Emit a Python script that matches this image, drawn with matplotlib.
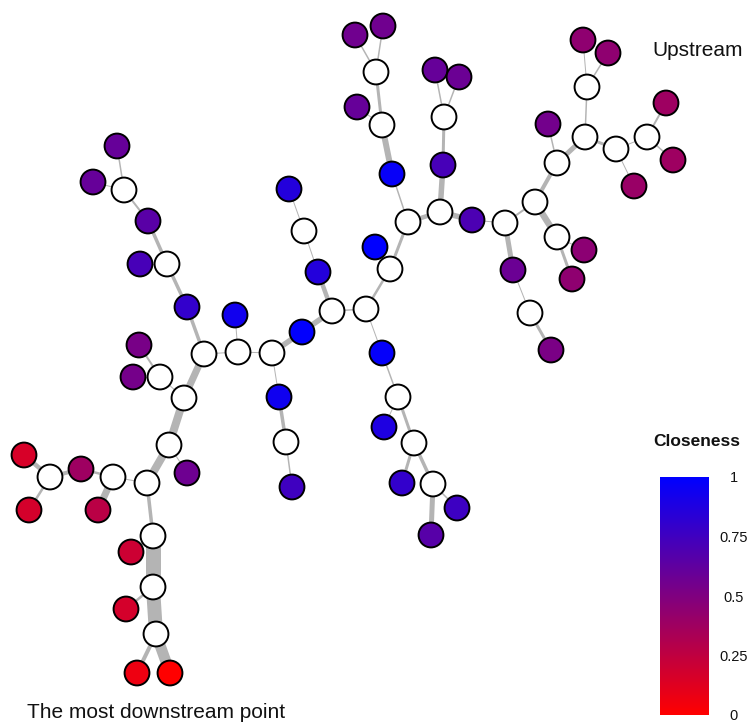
import numpy as np
import matplotlib
matplotlib.use("Agg")
import matplotlib.pyplot as plt
from matplotlib.collections import LineCollection
from matplotlib.colors import LinearSegmentedColormap, Normalize
from matplotlib.cm import ScalarMappable

plt.rcParams['font.family'] = ['Liberation Sans', 'DejaVu Sans']

# Node layout (x to the right, y downward) and closeness; NaN = junction node (white)
node_x = [170, 137, 156, 126, 153, 131, 153, 147, 169, 187,
          113, 81, 98, 50, 24, 29, 184, 160, 139, 133,
          204, 187, 167, 140, 148, 124, 117, 93, 238, 235,
          272, 279, 286, 292, 302, 332, 318, 304, 289, 366,
          382, 398, 384, 414, 402, 433, 457, 431, 390, 375,
          408, 392, 382, 357, 376, 355, 383, 440, 443, 444,
          435, 459, 472, 505, 513, 530, 551, 535, 557, 584,
          572, 557, 548, 585, 587, 583, 608, 616, 647, 666,
          673, 634]
node_y = [673, 673, 634, 609, 587, 552, 536, 483, 445, 473,
          477, 469, 510, 477, 455, 510, 398, 377, 345, 377,
          354, 307, 264, 264, 221, 190, 146, 182, 352, 315,
          353, 397, 442, 487, 332, 311, 272, 231, 189, 309,
          353, 397, 427, 443, 483, 484, 508, 535, 269, 247,
          222, 174, 125, 107, 72, 35, 26, 212, 165, 117,
          70, 77, 220, 223, 270, 313, 350, 202, 237, 250,
          279, 163, 124, 137, 87, 40, 53, 149, 137, 103,
          160, 186]
nan = np.nan
closeness = [0.00, 0.07, nan, 0.17, nan, 0.20, nan, nan, nan, 0.57,
             nan, 0.38, 0.27, nan, 0.16, 0.17, nan, nan, 0.53, 0.54,
             nan, 0.80, nan, 0.72, 0.65, nan, 0.60, 0.60, nan, 0.93,
             nan, 0.94, nan, 0.75, 0.99, nan, 0.86, nan, 0.86, nan,
             0.98, nan, 0.88, nan, 0.80, nan, 0.76, 0.66, nan, 1.00,
             nan, 0.97, nan, 0.60, nan, 0.56, 0.56, nan, 0.72, nan,
             0.60, 0.58, 0.70, nan, 0.58, nan, 0.52, nan, nan, 0.45,
             0.44, nan, 0.55, nan, nan, 0.44, 0.44, nan, nan, 0.38,
             0.38, 0.40]

# River segments: (from, to, flow width)
edges = [(1, 2, 4), (0, 2, 11), (2, 4, 14), (3, 4, 2.5), (4, 6, 15), (5, 6, 2),
         (6, 7, 3.5), (7, 8, 8), (9, 8, 1), (7, 10, 1), (10, 12, 7), (10, 11, 2.5),
         (11, 13, 4), (13, 14, 4.5), (13, 15, 2.5), (8, 16, 8), (16, 17, 1),
         (17, 18, 2), (17, 19, 1), (16, 20, 7), (20, 21, 3.5), (21, 22, 3.5),
         (22, 23, 1), (22, 24, 3.5), (24, 25, 2), (25, 26, 1.5), (25, 27, 1),
         (20, 28, 1), (28, 29, 1), (28, 30, 1), (30, 31, 1), (31, 32, 3.5),
         (32, 33, 1.5), (30, 34, 5.5), (34, 35, 5.5), (35, 36, 4.5), (36, 37, 1),
         (37, 38, 1), (35, 39, 1.5), (39, 40, 1), (40, 41, 1.5), (41, 42, 1),
         (41, 43, 3), (43, 44, 3), (43, 45, 3.5), (45, 46, 1.5), (45, 47, 5),
         (39, 48, 2.5), (48, 49, 1), (48, 50, 3), (50, 51, 1.5), (51, 52, 6),
         (52, 53, 1), (52, 54, 3), (54, 55, 1.5), (54, 56, 1.5), (50, 57, 4.5),
         (57, 58, 5.5), (58, 59, 3), (59, 60, 1.5), (59, 61, 1.5), (57, 62, 5.5),
         (62, 63, 1), (63, 64, 5), (64, 65, 1), (65, 66, 3), (63, 67, 2),
         (67, 68, 6.5), (68, 69, 1), (68, 70, 3), (67, 71, 4), (71, 72, 1.5),
         (71, 73, 5), (73, 74, 1.5), (74, 75, 1), (74, 76, 1.5), (73, 77, 3),
         (77, 78, 1), (78, 79, 2), (78, 80, 1.5), (77, 81, 1)]

cbar_ticks = [0, 0.25, 0.5, 0.75, 1]
cbar_labels = ['0', '0.25', '0.5', '0.75', '1']

W, H = 755, 724
fig = plt.figure(figsize=(W / 100, H / 100), dpi=100)
ax = fig.add_axes([0, 0, 1, 1])
ax.set_xlim(0, W)
ax.set_ylim(H, 0)
ax.axis('off')

cmap = LinearSegmentedColormap.from_list('closeness', ['#ff0000', '#0000ff'])
norm = Normalize(0, 1)

xs = np.array(node_x, float)
ys = np.array(node_y, float)
cl = np.array(closeness, float)

segs = [[(xs[a], ys[a]), (xs[b], ys[b])] for a, b, _ in edges]
widths = [w * 0.72 for _, _, w in edges]
ax.add_collection(LineCollection(segs, linewidths=widths, colors='#b4b4b4',
                                 capstyle='butt', zorder=1))

face = [cmap(norm(c)) if not np.isnan(c) else (1, 1, 1, 1) for c in cl]
ax.scatter(xs, ys, s=320, c=face, edgecolors='black', linewidths=1.4, zorder=2)

ax.text(652, 50, 'Upstream', fontsize=15, ha='left', va='center', color='#111111')
ax.text(27, 712, 'The most downstream point', fontsize=15, ha='left',
        va='center', color='#111111')

# Colour bar for closeness
cax = fig.add_axes([660 / W, 1 - 715 / H, 49 / W, 238 / H])
cb = fig.colorbar(ScalarMappable(norm=norm, cmap=cmap), cax=cax)
cb.outline.set_visible(False)
cb.set_ticks(cbar_ticks)
cb.set_ticklabels(cbar_labels)
cax.tick_params(length=0, labelsize=10.5, pad=18, colors='#111111')
for lbl in cax.get_yticklabels():
    lbl.set_horizontalalignment('center')
fig.text(697 / W, 1 - 441 / H, 'Closeness', fontsize=12.5, fontweight='bold',
         ha='center', va='center', color='#111111')

fig.savefig('out.png', dpi=100)
